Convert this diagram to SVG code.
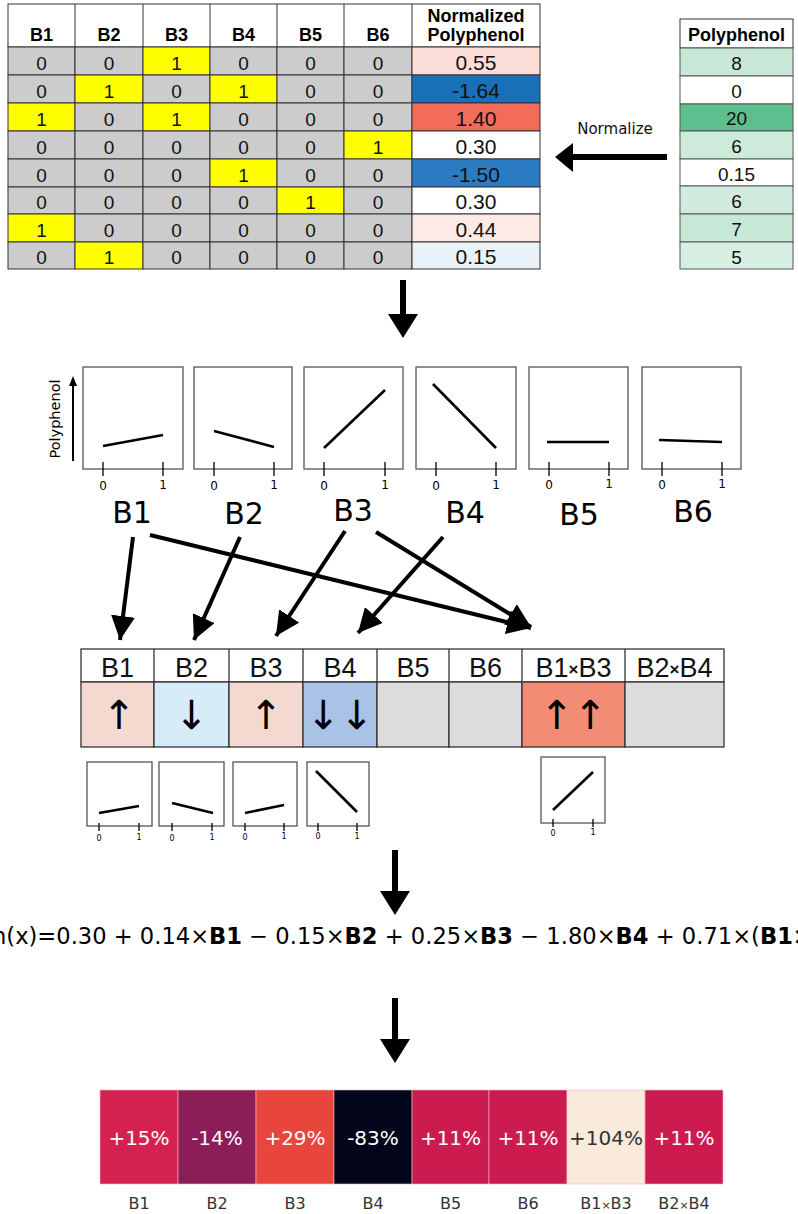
<svg xmlns="http://www.w3.org/2000/svg" width="798" height="1214" viewBox="0 0 798 1214">
<style>
.g{fill:#cccccc;stroke:#333;stroke-width:1}
.y{fill:#ffff00;stroke:#333;stroke-width:1}
.w{fill:#ffffff;stroke:#333;stroke-width:1}
.c{stroke:#333;stroke-width:1}
.hd{font-family:"Liberation Sans",Arial,sans-serif;font-weight:bold;font-size:18px;text-anchor:middle;fill:#000}
.td{font-family:"Liberation Sans",Arial,sans-serif;font-size:19px;text-anchor:middle;fill:#111}
.tn{font-family:"Liberation Sans",Arial,sans-serif;font-size:21px;text-anchor:middle;fill:#111}
.box{fill:#fff;stroke:#555;stroke-width:1.3}
.ln{stroke:#000;stroke-width:2.6;fill:none}
.tk{stroke:#000;stroke-width:1.3}
.tl{font-family:"DejaVu Sans",sans-serif;font-size:12px;text-anchor:middle;fill:#000}
.tls{font-family:"DejaVu Sans",sans-serif;font-size:8px;text-anchor:middle;fill:#000}
.big{font-family:"DejaVu Sans",sans-serif;font-size:30px;text-anchor:middle;fill:#000}
.mh{font-family:"Liberation Sans",Arial,sans-serif;font-size:27px;text-anchor:middle;fill:#111}
.ar{font-family:"DejaVu Sans",sans-serif;font-size:40px;text-anchor:middle;fill:#000}
.conn{stroke:#000;stroke-width:4;fill:none}
.hm{font-family:"DejaVu Sans",sans-serif;font-size:20px;text-anchor:middle;fill:#fff}
.hl{font-family:"DejaVu Sans",sans-serif;font-size:16px;text-anchor:middle;fill:#333}
.hc{stroke:#f4b6c6;stroke-width:0.6}
</style>
<defs>
<marker id="ah" markerUnits="userSpaceOnUse" markerWidth="26" markerHeight="24" refX="24" refY="12" orient="auto">
<path d="M0,0 L24,12 L0,24 Z" fill="#000"/>
</marker>
</defs>

<g id="binary-table">
<rect x="8" y="4" width="532" height="43" class="w"/>
<g class="hd">
<text x="41.5" y="41">B1</text><text x="109" y="41">B2</text><text x="176.5" y="41">B3</text><text x="243.5" y="41">B4</text><text x="310.5" y="41">B5</text><text x="378" y="41">B6</text>
<text x="476" y="22">Normalized</text><text x="476" y="41">Polyphenol</text>
</g>
<line x1="75" y1="4" x2="75" y2="47" class="c"/><line x1="143" y1="4" x2="143" y2="47" class="c"/><line x1="210" y1="4" x2="210" y2="47" class="c"/><line x1="277" y1="4" x2="277" y2="47" class="c"/><line x1="344" y1="4" x2="344" y2="47" class="c"/><line x1="412" y1="4" x2="412" y2="47" class="c"/>
<rect x="8" y="47" width="67" height="28" class="g"/><rect x="75" y="47" width="68" height="28" class="g"/><rect x="143" y="47" width="67" height="28" class="y"/><rect x="210" y="47" width="67" height="28" class="g"/><rect x="277" y="47" width="67" height="28" class="g"/><rect x="344" y="47" width="68" height="28" class="g"/><rect x="412" y="47" width="128" height="28" fill="#fcdcd6" stroke="#333"/>
<rect x="8" y="75" width="67" height="28" class="g"/><rect x="75" y="75" width="68" height="28" class="y"/><rect x="143" y="75" width="67" height="28" class="g"/><rect x="210" y="75" width="67" height="28" class="y"/><rect x="277" y="75" width="67" height="28" class="g"/><rect x="344" y="75" width="68" height="28" class="g"/><rect x="412" y="75" width="128" height="28" fill="#1a6fb9" stroke="#333"/>
<rect x="8" y="103" width="67" height="28" class="y"/><rect x="75" y="103" width="68" height="28" class="g"/><rect x="143" y="103" width="67" height="28" class="y"/><rect x="210" y="103" width="67" height="28" class="g"/><rect x="277" y="103" width="67" height="28" class="g"/><rect x="344" y="103" width="68" height="28" class="g"/><rect x="412" y="103" width="128" height="28" fill="#f26c59" stroke="#333"/>
<rect x="8" y="131" width="67" height="28" class="g"/><rect x="75" y="131" width="68" height="28" class="g"/><rect x="143" y="131" width="67" height="28" class="g"/><rect x="210" y="131" width="67" height="28" class="g"/><rect x="277" y="131" width="67" height="28" class="g"/><rect x="344" y="131" width="68" height="28" class="y"/><rect x="412" y="131" width="128" height="28" class="w"/>
<rect x="8" y="159" width="67" height="28" class="g"/><rect x="75" y="159" width="68" height="28" class="g"/><rect x="143" y="159" width="67" height="28" class="g"/><rect x="210" y="159" width="67" height="28" class="y"/><rect x="277" y="159" width="67" height="28" class="g"/><rect x="344" y="159" width="68" height="28" class="g"/><rect x="412" y="159" width="128" height="28" fill="#2a7bc1" stroke="#333"/>
<rect x="8" y="187" width="67" height="27" class="g"/><rect x="75" y="187" width="68" height="27" class="g"/><rect x="143" y="187" width="67" height="27" class="g"/><rect x="210" y="187" width="67" height="27" class="g"/><rect x="277" y="187" width="67" height="27" class="y"/><rect x="344" y="187" width="68" height="27" class="g"/><rect x="412" y="187" width="128" height="27" class="w"/>
<rect x="8" y="214" width="67" height="28" class="y"/><rect x="75" y="214" width="68" height="28" class="g"/><rect x="143" y="214" width="67" height="28" class="g"/><rect x="210" y="214" width="67" height="28" class="g"/><rect x="277" y="214" width="67" height="28" class="g"/><rect x="344" y="214" width="68" height="28" class="g"/><rect x="412" y="214" width="128" height="28" fill="#fdeae6" stroke="#333"/>
<rect x="8" y="242" width="67" height="27" class="g"/><rect x="75" y="242" width="68" height="27" class="y"/><rect x="143" y="242" width="67" height="27" class="g"/><rect x="210" y="242" width="67" height="27" class="g"/><rect x="277" y="242" width="67" height="27" class="g"/><rect x="344" y="242" width="68" height="27" class="g"/><rect x="412" y="242" width="128" height="27" fill="#eaf2f9" stroke="#333"/>
<g class="td">
<text x="41.5" y="70">0</text><text x="109" y="70">0</text><text x="176.5" y="70">1</text><text x="243.5" y="70">0</text><text x="310.5" y="70">0</text><text x="378" y="70">0</text>
<text x="41.5" y="98">0</text><text x="109" y="98">1</text><text x="176.5" y="98">0</text><text x="243.5" y="98">1</text><text x="310.5" y="98">0</text><text x="378" y="98">0</text>
<text x="41.5" y="126">1</text><text x="109" y="126">0</text><text x="176.5" y="126">1</text><text x="243.5" y="126">0</text><text x="310.5" y="126">0</text><text x="378" y="126">0</text>
<text x="41.5" y="154">0</text><text x="109" y="154">0</text><text x="176.5" y="154">0</text><text x="243.5" y="154">0</text><text x="310.5" y="154">0</text><text x="378" y="154">1</text>
<text x="41.5" y="182">0</text><text x="109" y="182">0</text><text x="176.5" y="182">0</text><text x="243.5" y="182">1</text><text x="310.5" y="182">0</text><text x="378" y="182">0</text>
<text x="41.5" y="209">0</text><text x="109" y="209">0</text><text x="176.5" y="209">0</text><text x="243.5" y="209">0</text><text x="310.5" y="209">1</text><text x="378" y="209">0</text>
<text x="41.5" y="237">1</text><text x="109" y="237">0</text><text x="176.5" y="237">0</text><text x="243.5" y="237">0</text><text x="310.5" y="237">0</text><text x="378" y="237">0</text>
<text x="41.5" y="264">0</text><text x="109" y="264">1</text><text x="176.5" y="264">0</text><text x="243.5" y="264">0</text><text x="310.5" y="264">0</text><text x="378" y="264">0</text>
</g>
<g class="tn">
<text x="476" y="70">0.55</text><text x="476" y="98">-1.64</text><text x="476" y="126">1.40</text><text x="476" y="154">0.30</text><text x="476" y="182">-1.50</text><text x="476" y="209">0.30</text><text x="476" y="237">0.44</text><text x="476" y="264">0.15</text>
</g>
</g>

<g id="polyphenol-table">
<rect x="680" y="19" width="113" height="29" class="w"/>
<rect x="680" y="48" width="113" height="28" fill="#c8e9d7" stroke="#555"/>
<rect x="680" y="76" width="113" height="28" fill="#ffffff" stroke="#555"/>
<rect x="680" y="104" width="113" height="27" fill="#5dbf8d" stroke="#555"/>
<rect x="680" y="131" width="113" height="28" fill="#cdebdb" stroke="#555"/>
<rect x="680" y="159" width="113" height="27" fill="#ffffff" stroke="#555"/>
<rect x="680" y="186" width="113" height="28" fill="#d1ecde" stroke="#555"/>
<rect x="680" y="214" width="113" height="28" fill="#c9e9d8" stroke="#555"/>
<rect x="680" y="242" width="113" height="27" fill="#d7efe3" stroke="#555"/>
<text x="736.5" y="41" class="hd" font-size="17">Polyphenol</text>
<g class="td">
<text x="736.5" y="70">8</text><text x="736.5" y="98">0</text><text x="736.5" y="125">20</text><text x="736.5" y="153">6</text><text x="736.5" y="181">0.15</text><text x="736.5" y="208">6</text><text x="736.5" y="236">7</text><text x="736.5" y="264">5</text>
</g>
</g>

<g id="normalize-arrow">
<line x1="667" y1="157" x2="568" y2="157" stroke="#000" stroke-width="6"/>
<path d="M555,157 L573,143 L573,172 Z" fill="#000"/>
<text x="615" y="134" font-family="DejaVu Sans,sans-serif" font-size="15" text-anchor="middle" fill="#111">Normalize</text>
</g>

<g id="plots">
<text transform="translate(60,419) rotate(-90)" font-family="DejaVu Sans,sans-serif" font-size="14.5" text-anchor="middle" fill="#000">Polyphenol</text>
<line x1="73" y1="461" x2="73" y2="385" stroke="#000" stroke-width="2"/>
<path d="M73,376 L69,386 L77,386 Z" fill="#000"/>
<rect x="83" y="367" width="100" height="102" class="box"/>
<rect x="194" y="367" width="98" height="102" class="box"/>
<rect x="304" y="367" width="99" height="102" class="box"/>
<rect x="416" y="367" width="100" height="102" class="box"/>
<rect x="529" y="367" width="99" height="102" class="box"/>
<rect x="642" y="367" width="99" height="102" class="box"/>
<line x1="103" y1="446" x2="163" y2="435" class="ln"/>
<line x1="214" y1="431" x2="274" y2="447" class="ln"/>
<line x1="324" y1="448" x2="385" y2="390" class="ln"/>
<line x1="433" y1="384" x2="496" y2="448" class="ln"/>
<line x1="547" y1="442" x2="609" y2="442" class="ln"/>
<line x1="659" y1="440" x2="722" y2="442" class="ln"/>
<g class="tk">
<line x1="103" y1="462" x2="103" y2="476"/><line x1="163" y1="462" x2="163" y2="476"/>
<line x1="214" y1="462" x2="214" y2="476"/><line x1="274" y1="462" x2="274" y2="476"/>
<line x1="324" y1="462" x2="324" y2="476"/><line x1="385" y1="462" x2="385" y2="476"/>
<line x1="436" y1="462" x2="436" y2="476"/><line x1="496" y1="462" x2="496" y2="476"/>
<line x1="549" y1="462" x2="549" y2="476"/><line x1="609" y1="462" x2="609" y2="476"/>
<line x1="662" y1="462" x2="662" y2="476"/><line x1="722" y1="462" x2="722" y2="476"/>
</g>
<g class="tl">
<text x="103" y="490">0</text><text x="163" y="489">1</text>
<text x="214" y="490">0</text><text x="274" y="489">1</text>
<text x="324" y="490">0</text><text x="385" y="489">1</text>
<text x="436" y="490">0</text><text x="496" y="489">1</text>
<text x="549" y="489">0</text><text x="609" y="488">1</text>
<text x="662" y="489">0</text><text x="722" y="488">1</text>
</g>
</g>

<g id="labels">
<text x="132" y="523" class="big">B1</text>
<text x="244" y="524" class="big">B2</text>
<text x="353" y="521" class="big">B3</text>
<text x="465" y="523" class="big">B4</text>
<text x="579" y="525" class="big">B5</text>
<text x="693" y="522" class="big">B6</text>
</g>

<g id="connectors">
<line x1="133" y1="537" x2="120" y2="640" class="conn" marker-end="url(#ah)"/>
<line x1="240" y1="537" x2="194" y2="640" class="conn" marker-end="url(#ah)"/>
<line x1="345" y1="531" x2="276" y2="636" class="conn" marker-end="url(#ah)"/>
<line x1="443" y1="537" x2="358" y2="633" class="conn" marker-end="url(#ah)"/>
<line x1="150" y1="535" x2="531" y2="628" class="conn" marker-end="url(#ah)"/>
<line x1="376" y1="532" x2="531" y2="627" class="conn" marker-end="url(#ah)"/>
</g>

<g id="effect-table">
<rect x="81" y="649" width="643" height="33" fill="#fff" stroke="#333" stroke-width="1.3"/>
<rect x="81" y="682" width="73" height="65" fill="#f4d9d1" stroke="#333" stroke-width="1.3"/>
<rect x="154" y="682" width="75" height="65" fill="#d6ecf9" stroke="#333" stroke-width="1.3"/>
<rect x="229" y="682" width="74" height="65" fill="#f4d9d1" stroke="#333" stroke-width="1.3"/>
<rect x="303" y="682" width="74" height="65" fill="#a9c3e6" stroke="#333" stroke-width="1.3"/>
<rect x="377" y="682" width="72" height="65" fill="#dcdcdc" stroke="#333" stroke-width="1.3"/>
<rect x="449" y="682" width="73" height="65" fill="#dcdcdc" stroke="#333" stroke-width="1.3"/>
<rect x="522" y="682" width="103" height="65" fill="#f28c74" stroke="#333" stroke-width="1.3"/>
<rect x="625" y="682" width="99" height="65" fill="#dcdcdc" stroke="#333" stroke-width="1.3"/>
<g stroke="#333" stroke-width="1.3">
<line x1="154" y1="649" x2="154" y2="682"/><line x1="229" y1="649" x2="229" y2="682"/><line x1="303" y1="649" x2="303" y2="682"/><line x1="377" y1="649" x2="377" y2="682"/><line x1="449" y1="649" x2="449" y2="682"/><line x1="522" y1="649" x2="522" y2="682"/><line x1="625" y1="649" x2="625" y2="682"/>
</g>
<g class="mh">
<text x="117.5" y="677">B1</text><text x="191.5" y="677">B2</text><text x="266" y="677">B3</text><text x="340" y="677">B4</text><text x="413" y="677">B5</text><text x="485.5" y="677">B6</text>
<text x="573.5" y="677">B1<tspan font-size="17" font-weight="bold" dy="-2">×</tspan><tspan dy="2">B3</tspan></text>
<text x="674.5" y="677">B2<tspan font-size="17" font-weight="bold" dy="-2">×</tspan><tspan dy="2">B4</tspan></text>
</g>
<g class="ar">
<text x="119" y="729">↑</text>
<text x="191.5" y="729">↓</text>
<text x="266" y="729">↑</text>
<text x="340" y="729">↓↓</text>
<text x="573.5" y="729">↑↑</text>
</g>
</g>

<g id="small-plots">
<rect x="87" y="762" width="65" height="64" class="box" stroke-width="1"/>
<rect x="159" y="762" width="65" height="64" class="box" stroke-width="1"/>
<rect x="233" y="762" width="64" height="64" class="box" stroke-width="1"/>
<rect x="307" y="762" width="62" height="64" class="box" stroke-width="1"/>
<rect x="541" y="757" width="64" height="66" class="box" stroke-width="1"/>
<g class="ln" stroke-width="1.6">
<line x1="99" y1="813" x2="139" y2="806"/>
<line x1="172" y1="803" x2="213" y2="813"/>
<line x1="245" y1="813" x2="284" y2="805"/>
<line x1="316" y1="771" x2="357" y2="812"/>
<line x1="553" y1="810" x2="593" y2="772"/>
</g>
<g class="tk" stroke-width="1">
<line x1="99" y1="823" x2="99" y2="831"/><line x1="139" y1="823" x2="139" y2="831"/>
<line x1="172" y1="823" x2="172" y2="831"/><line x1="212" y1="823" x2="212" y2="831"/>
<line x1="245" y1="823" x2="245" y2="831"/><line x1="284" y1="823" x2="284" y2="831"/>
<line x1="318" y1="823" x2="318" y2="831"/><line x1="357" y1="823" x2="357" y2="831"/>
<line x1="553" y1="819" x2="553" y2="827"/><line x1="593" y1="819" x2="593" y2="827"/>
</g>
<g class="tls">
<text x="99" y="841">0</text><text x="139" y="840">1</text>
<text x="172" y="841">0</text><text x="212" y="840">1</text>
<text x="245" y="840">0</text><text x="284" y="839">1</text>
<text x="318" y="839">0</text><text x="357" y="839">1</text>
<text x="553" y="836">0</text><text x="593" y="835">1</text>
</g>
</g>

<g id="flow-arrows">
<line x1="403" y1="280" x2="403" y2="318" stroke="#000" stroke-width="6"/>
<path d="M388,314 L418,314 L403,338 Z" fill="#000"/>
<line x1="395" y1="850" x2="395" y2="895" stroke="#000" stroke-width="6"/>
<path d="M380,891 L410,891 L395,915 Z" fill="#000"/>
<line x1="395" y1="998" x2="395" y2="1043" stroke="#000" stroke-width="6"/>
<path d="M380,1039 L410,1039 L395,1063 Z" fill="#000"/>
</g>

<g id="formula">
<text x="-8" y="944" font-family="DejaVu Sans,sans-serif" font-size="22.6" fill="#000" xml:space="preserve">h(x)=0.30 + 0.14×<tspan font-weight="bold">B1</tspan> − 0.15×<tspan font-weight="bold">B2</tspan> + 0.25×<tspan font-weight="bold">B3</tspan> − 1.80×<tspan font-weight="bold">B4</tspan> + 0.71×(<tspan font-weight="bold">B1×B3</tspan>)</text>
</g>

<g id="heatmap">
<rect x="100" y="1090" width="78" height="94" fill="#d42150" class="hc"/>
<rect x="178" y="1090" width="78" height="94" fill="#8b1e57" class="hc"/>
<rect x="256" y="1090" width="78" height="94" fill="#e8453d" class="hc"/>
<rect x="334" y="1090" width="78" height="94" fill="#03051a" class="hc"/>
<rect x="412" y="1090" width="77" height="94" fill="#cb1b4f" class="hc"/>
<rect x="489" y="1090" width="78" height="94" fill="#cb1b4f" class="hc"/>
<rect x="567" y="1090" width="78" height="94" fill="#faeadc" class="hc"/>
<rect x="645" y="1090" width="78" height="94" fill="#cb1b4f" class="hc"/>
<g class="hm">
<text x="139" y="1145">+15%</text><text x="217" y="1145">-14%</text><text x="295" y="1145">+29%</text><text x="373" y="1145">-83%</text><text x="450.5" y="1145">+11%</text><text x="528" y="1145">+11%</text><text x="606" y="1145" fill="#333">+104%</text><text x="684" y="1145">+11%</text>
</g>
<g class="hl">
<text x="139" y="1209">B1</text><text x="217" y="1209">B2</text><text x="295" y="1209">B3</text><text x="373" y="1209">B4</text><text x="450.5" y="1209">B5</text><text x="528" y="1209">B6</text>
<text x="606" y="1209">B1<tspan font-size="11">×</tspan>B3</text><text x="684" y="1209">B2<tspan font-size="11">×</tspan>B4</text>
</g>
</g>
</svg>
